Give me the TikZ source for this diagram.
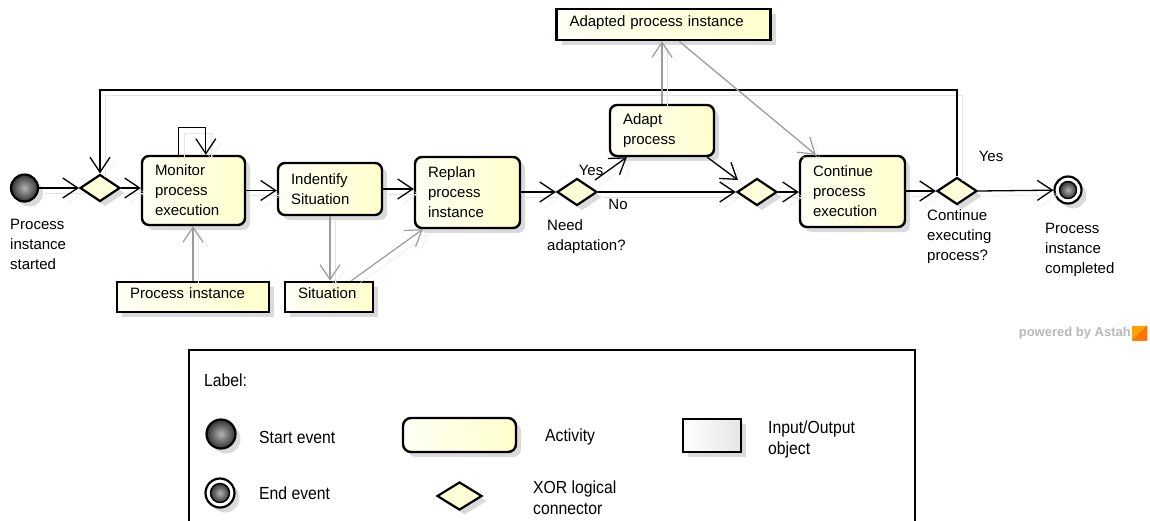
\documentclass[tikz,border=0pt]{standalone}
\usepackage{fontspec}
\setmainfont{Liberation Sans}
\newfontfamily\legendfont{Liberation Sans}[FakeStretch=0.9]
\usetikzlibrary{arrows.meta,shapes.geometric,shadows}

\definecolor{actlight}{RGB}{255,255,246}
\definecolor{actdark}{RGB}{255,255,204}
\definecolor{gatefill}{RGB}{255,255,218}
\definecolor{shadegray}{RGB}{218,218,218}
\definecolor{flowgray}{RGB}{155,155,155}
\definecolor{ghostgray}{RGB}{228,228,228}
\definecolor{markgray}{RGB}{185,185,185}

\newcommand\diagfont{\fontsize{15pt}{20pt}\selectfont}
\newcommand\keyfont{\legendfont\fontsize{17.5pt}{21pt}\selectfont}

\tikzset{
  softshadow/.style={drop shadow={shadow xshift=5pt, shadow yshift=-5pt, fill=shadegray, opacity=1}},
  activity/.style={rectangle, rounded corners=7pt, draw=black, line width=2.4pt,
    left color=actlight, right color=actdark, align=left, inner xsep=13pt,
    inner ysep=0pt, font=\diagfont, softshadow},
  ioobject/.style={rectangle, draw=black, line width=2.6pt, left color=actlight,
    right color=actdark, align=left, inner xsep=13pt, inner ysep=0pt,
    text height=11pt, text depth=8pt, font=\diagfont, softshadow},
  gate/.style={diamond, draw=black, line width=2.2pt, fill=gatefill,
    minimum width=40pt, minimum height=27pt, inner sep=0pt, softshadow},
  startevent/.style={circle, draw=black, line width=2.2pt, minimum size=27pt,
    inner sep=0pt, inner color=gray!60, outer color=black!80, softshadow},
  endring/.style={circle, draw=black, line width=2.2pt, fill=white,
    minimum size=27pt, inner sep=0pt, softshadow},
  endcore/.style={circle, draw=black, line width=1.4pt, minimum size=17pt,
    inner sep=0pt, inner color=gray!60, outer color=black!80},
  barbtip/.style={-{Straight Barb[length=15pt,width=20pt]}},
  ctrlflow/.style={draw=black, line width=1.3pt, barbtip,
    preaction={draw=ghostgray, transform canvas={shift={(5pt,-5pt)}}}},
  objflow/.style={draw=flowgray, line width=1.2pt, barbtip,
    preaction={draw=ghostgray, transform canvas={shift={(5pt,-5pt)}}}},
  plainlabel/.style={font=\diagfont, align=left, inner sep=0pt},
  keytext/.style={font=\keyfont, align=left, inner sep=0pt},
}

\begin{document}
\begin{tikzpicture}[x=1pt,y=-1pt]
\useasboundingbox (0,0) rectangle (1150,520);
\fill[white] (0,0) rectangle (1150,520);
\clip (0,0) rectangle (1150,520);

% ---------- process flow ----------
\node[startevent] (start) at (24.5,188) {};
\node[gate] (d1) at (100,188) {};
\node[activity, text width=77pt, minimum height=69pt] (monitor) at (193.5,190.5) {Monitor\\process\\execution};
\node[activity, text width=78pt, minimum height=52pt] (identify) at (330,189) {Indentify\\Situation};
\node[activity, text width=79pt, minimum height=71pt] (replan) at (467.5,192.5) {Replan\\process\\instance};
\node[gate] (d2) at (577,192) {};
\node[activity, text width=78pt, minimum height=51pt] (adapt) at (662,130.5) {Adapt\\process};
\node[gate] (d3) at (757,192) {};
\node[activity, text width=79pt, minimum height=71pt] (cont) at (852.5,191.5) {Continue\\process\\execution};
\node[gate] (d4) at (957,191) {};
\node[endring] (endev) at (1068,190) {};
\node[endcore] (endevcore) at (endev) {};

% input / output objects
\node[ioobject, text width=188pt, minimum height=31pt] (adapted) at (663.5,24.5) {Adapted process instance};
\node[ioobject, text width=126pt, minimum height=30pt] (pinst) at (193,297) {Process instance};
\node[ioobject, text width=62pt, minimum height=30pt] (situ) at (329,297) {Situation};

% captions
\node[plainlabel, anchor=north west] (startlbl) at (10,218.5) {Process\\instance\\started};
\node[plainlabel, anchor=north west] (needlbl) at (547,219.5) {Need\\adaptation?};
\node[plainlabel, anchor=north west] (contlbl) at (927,209.5) {Continue\\executing\\process?};
\node[plainlabel, anchor=north west] (endlbl) at (1045,222.5) {Process\\instance\\completed};
\node[plainlabel] (yeslbl) at (591,170) {Yes};
\node[plainlabel] (nolbl) at (618,204) {No};
\node[plainlabel] (againlbl) at (991,156) {Yes};

% control flow
\coordinate (looptop) at (500,90);
\draw[ctrlflow] (start) -- (d1.west);
\draw[ctrlflow] (d1.east) -- (d1.east -| monitor.west);
\draw[ctrlflow] ([xshift=38pt]monitor.north west) -- ++(0pt,27pt) -| ([xshift=65pt]monitor.north west);
\draw[ctrlflow] (monitor.east) -- (monitor.east -| identify.west);
\draw[ctrlflow] (identify.east) -- (identify.east -| replan.west);
\draw[ctrlflow] (replan.east |- d2.west) -- (d2.west);
\draw[ctrlflow] ([shift={(18pt,12pt)}]d2.center) -- ([xshift=18pt]adapt.south west);
\draw[ctrlflow] (d2.east) -- (d3.west);
\draw[ctrlflow] ([xshift=-8pt]adapt.south east) -- ([shift={(-19pt,12pt)}]d3.center);
\draw[ctrlflow] (d3.east) -- (d3.east -| cont.west);
\draw[ctrlflow] (cont.east |- d4.west) -- (d4.west);
\draw[ctrlflow] (d4.east) -- (endev);
\draw[ctrlflow] (d4.north) -- (d4.north |- looptop) -| (d1.north);

% object flow
\draw[objflow] (pinst.north) -- (pinst.north |- monitor.south);
\draw[objflow] (identify.south) -- (identify.south |- situ.north);
\draw[objflow] ([xshift=-23pt]situ.north east) -- ([xshift=9pt]replan.south west);
\draw[objflow] (adapt.north) -- (adapt.north |- adapted.south);
\draw[objflow] ([xshift=124pt]adapted.south west) -- ([xshift=17pt]cont.north west);

% tool mark
\node[font=\bfseries\fontsize{13pt}{15pt}\selectfont, text=markgray, anchor=east, inner sep=0pt] (mark) at (1131,333) {powered by Astah};
\node[fill=orange!75!yellow, minimum size=15pt, inner sep=0pt, anchor=west] (logo) at ([xshift=1pt]mark.east) {};
\fill[orange!90!red] (logo.south west) -- (logo.north east) -- (logo.south east) -- cycle;

% ---------- key ----------
\node[draw=black, line width=2.4pt, fill=white, minimum width=726pt, minimum height=200pt, anchor=north west, inner sep=0pt] (legend) at (188,349) {};
\node[keytext, anchor=west] (keytitle) at (204,380) {Label:};
\node[startevent, minimum size=29pt] (keystart) at (221,434) {};
\node[keytext, anchor=west] (keystarttxt) at (259,437) {Start event};
\node[endring, minimum size=29pt] (keyend) at (220,493) {};
\node[endcore, minimum size=19pt] (keyendcore) at (keyend) {};
\node[keytext, anchor=west] (keyendtxt) at (259,493) {End event};
\node[activity, minimum width=113pt, minimum height=34pt, rounded corners=8pt] (keyact) at (459.5,435) {};
\node[keytext, anchor=west] (keyacttxt) at (545,437) {Activity};
\node[gate, minimum width=45pt, minimum height=28pt] (keygate) at (459.5,496) {};
\node[keytext, anchor=north west] (keygatetxt) at (533,480.7) {XOR logical\\connector};
\node[ioobject, minimum width=58pt, minimum height=33pt, left color=white, right color=gray!20, text height=0pt, text depth=0pt] (keyio) at (712,435.5) {};
\node[keytext, anchor=north west] (keyiotxt) at (768,420.7) {Input/Output\\object};
\end{tikzpicture}
\end{document}
